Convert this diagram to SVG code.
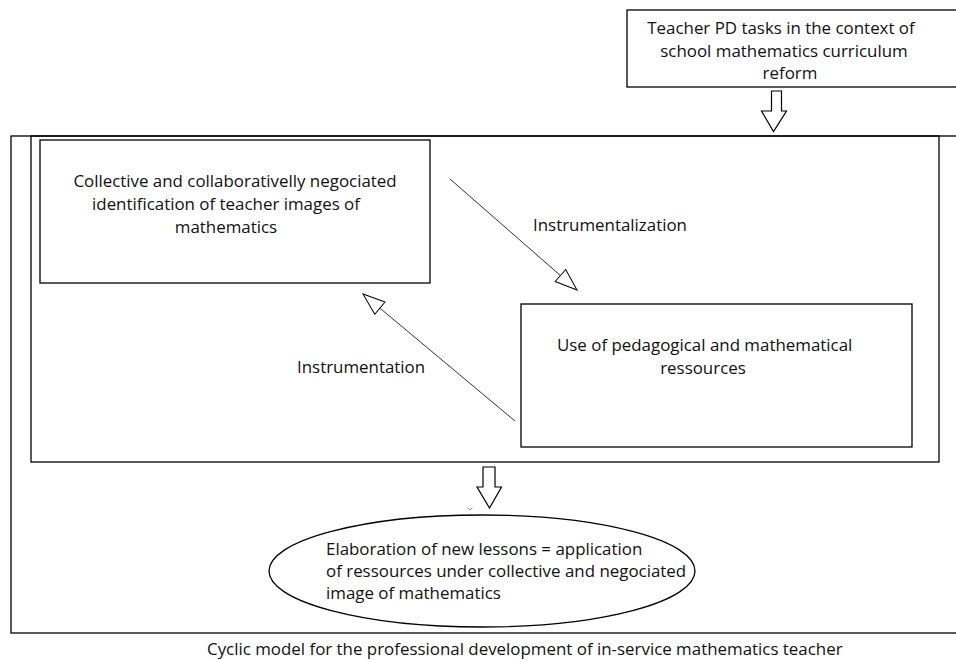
<svg xmlns="http://www.w3.org/2000/svg" width="956" height="660" viewBox="0 0 956 660">
<style>
.box{fill:#fff;stroke:#000;stroke-width:1.3}
.frame{fill:none;stroke:#000;stroke-width:1.3}
.t{font-family:"Open Sans","Liberation Sans",Arial,sans-serif;font-size:16.9px;fill:#111}
.c{text-anchor:middle}
.con{fill:none;stroke:#333;stroke-width:1}
.blk{fill:#fff;stroke:#000;stroke-width:1.2}
</style>
<defs>
<marker id="open" viewBox="0 0 24 18" refX="23" refY="9" markerWidth="24" markerHeight="18" markerUnits="userSpaceOnUse" orient="auto">
<path d="M1,1 L23,9 L1,17 Z" fill="#fff" stroke="#000" stroke-width="1"/>
</marker>
</defs>
<rect width="956" height="660" fill="#fff"/>
<g id="outer-frame">
<rect class="frame" x="11" y="136" width="950" height="497"/>
</g>
<g id="inner-frame">
<rect class="frame" x="31" y="136" width="908" height="326"/>
</g>
<g id="pd-tasks">
<rect class="box" x="627" y="10" width="335" height="77"/>
<text class="t c" x="781" y="34">Teacher PD tasks in the context of</text>
<text class="t c" x="784" y="57">school mathematics curriculum</text>
<text class="t c" x="790" y="79">reform</text>
</g>
<g id="images">
<rect class="box" x="40" y="140" width="390" height="143"/>
<text class="t c" x="235" y="187">Collective and collaborativelly negociated</text>
<text class="t c" x="226" y="210">identification of teacher images of</text>
<text class="t c" x="226" y="233">mathematics</text>
</g>
<g id="resources">
<rect class="box" x="521" y="304" width="391" height="143"/>
<text class="t" x="557" y="351">Use of pedagogical and mathematical</text>
<text class="t c" x="703" y="374">ressources</text>
</g>
<g id="lessons">
<ellipse class="box" cx="482" cy="571" rx="213" ry="56"/>
<text class="t" x="326" y="555">Elaboration of new lessons = application</text>
<text class="t" x="326" y="577">of ressources under collective and negociated</text>
<text class="t" x="326" y="599">image of mathematics</text>
</g>
<g id="connectors">
<path class="blk" d="M771.5,91 H781.5 V111 H786.5 L773.5,131.5 L761.5,111 H771.5 Z"/>
<path class="blk" d="M483,467 H495 V487 H501.5 L489.5,508 L477,487 H483 Z"/>
<line class="con" x1="450" y1="179" x2="577" y2="290" marker-end="url(#open)"/>
<line class="con" x1="515" y1="421" x2="363" y2="294" marker-end="url(#open)"/>
<path d="M467.5,507.5 L470,510 L472.5,507.5" fill="none" stroke="#777" stroke-width="0.8"/>
<text class="t" x="533" y="231">Instrumentalization</text>
<text class="t" x="297" y="373">Instrumentation</text>
</g>
<g id="caption">
<text class="t" x="207" y="655">Cyclic model for the professional development of in-service mathematics teacher</text>
</g>
</svg>
